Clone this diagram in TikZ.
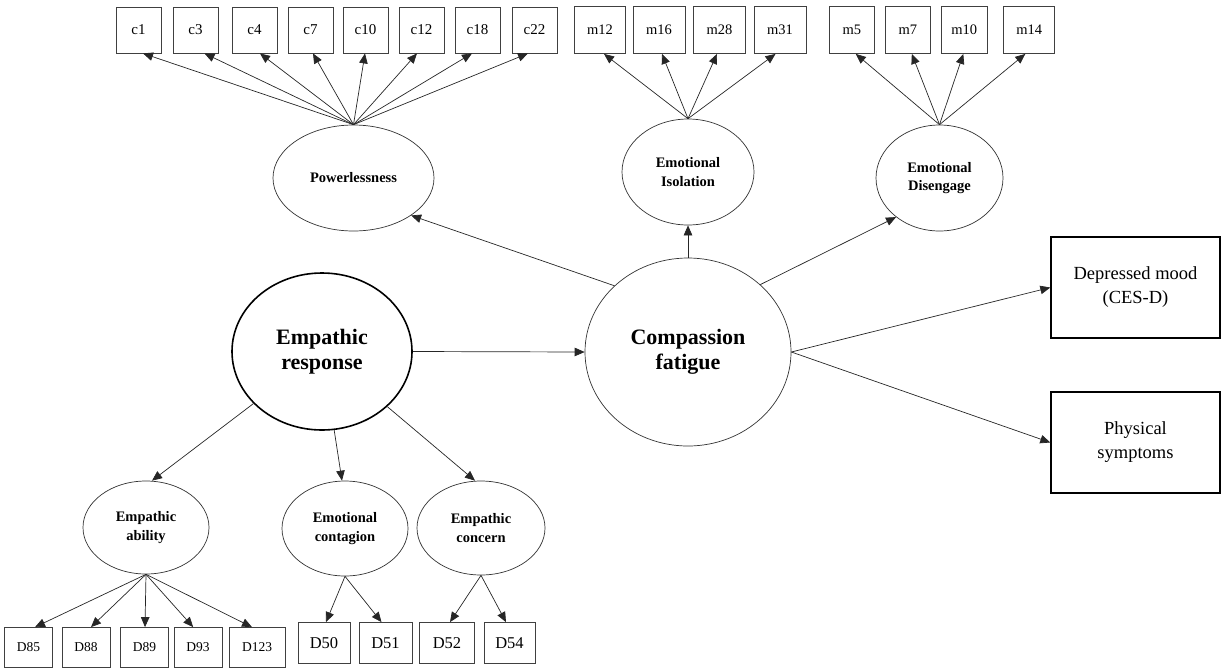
\documentclass[tikz,border=0pt]{standalone}
\usepackage{fontspec}
\setmainfont{Liberation Serif}
\usetikzlibrary{arrows.meta,shapes.geometric}
\begin{document}
\begin{tikzpicture}[x=1pt,y=-1pt,
  lat/.style={ellipse,draw=black!80,line width=0.7pt,inner sep=0pt,align=center,font=\fontsize{14.5}{18.5}\selectfont\bfseries},
  biglat/.style={lat,font=\fontsize{22}{25}\selectfont\bfseries},
  obs/.style={rectangle,draw=black!75,line width=0.8pt,inner sep=0pt,font=\fontsize{15}{18}\selectfont},
  outc/.style={rectangle,draw=black,line width=1.4pt,inner sep=0pt,align=center,minimum width=169pt,minimum height=101pt,font=\fontsize{18.5}{24}\selectfont},
  arr/.style={draw=black!85,line width=0.7pt,-{Triangle[length=10pt,width=8.5pt]}},
]
\useasboundingbox (0,0) rectangle (1225,670);

% latent variables
\node[lat,minimum width=161pt,minimum height=106pt] (pw) at (353.5,178) {Powerlessness};
\node[lat,minimum width=132pt,minimum height=106pt] (iso) at (688,172) {Emotional\\Isolation};
\node[lat,minimum width=127pt,minimum height=106pt] (dis) at (939.5,178) {Emotional\\Disengage};
\node[biglat,line width=1.6pt,draw=black,minimum width=180pt,minimum height=157pt] (er) at (322,351.5) {Empathic\\response};
\node[biglat,minimum width=206pt,minimum height=188pt] (cf) at (688,352) {Compassion\\fatigue};
\node[lat,minimum width=126pt,minimum height=93pt] (ab) at (146,527.5) {Empathic\\ability};
\node[lat,minimum width=126pt,minimum height=95pt] (cg) at (345,528.5) {Emotional\\contagion};
\node[lat,minimum width=128pt,minimum height=94pt] (cc) at (481,528) {Empathic\\concern};

% outcomes
\node[outc] (dep) at (1135.5,287.5) {Depressed mood\\(CES-D)};
\node[outc] (phys) at (1135.5,442.5) {Physical\\symptoms};

% c indicators
\foreach \n/\x in {c1/138.5,c3/195.5,c4/254.5,c7/310.5,c10/365.5,c12/421.5,c18/477.5,c22/534.5}
  \node[obs,minimum width=45pt,minimum height=46pt] (\n) at (\x,30) {\n};
% m indicators
\foreach \n/\x/\w in {m12/600/51,m16/659/52,m28/719.5/52,m31/780/52,m5/851.8/45.5,m7/907.8/45.7,m10/964.3/46.6,m14/1029.3/51}
  \node[obs,minimum width=\w pt,minimum height=47pt,font=\fontsize{14.5}{17}\selectfont] (\n) at (\x,30) {\n};
% D indicators
\foreach \n/\x/\w in {D85/28.5/48,D88/86/48,D89/144.5/48,D93/198/48,D123/257/56}
  \node[obs,minimum width=\w pt,minimum height=40pt,font=\fontsize{13.5}{16}\selectfont] (\n) at (\x,647.5) {\n};
\foreach \n/\x/\w in {D50/324/52,D51/385.5/53,D52/447/55,D54/509.5/51}
  \node[obs,minimum width=\w pt,minimum height=41pt,font=\fontsize{16.5}{19}\selectfont] (\n) at (\x,643) {\n};

% loadings
\foreach \n/\s in {c1/4.5,c3/9,c4/5.5,c7/2.5,c10/-0.5,c12/-4.5,c18/-5.5,c22/-6.5}
  \draw[arr] (pw.north) -- ([xshift=\s]\n.south);
\foreach \n/\s in {m12/4,m16/3,m28/-2.5,m31/-4.5}
  \draw[arr] (iso.north) -- ([xshift=\s]\n.south);
\foreach \n/\s in {m5/4,m7/4,m10/-1,m14/-4}
  \draw[arr] (dis.north) -- ([xshift=\s]\n.south);
\foreach \n/\s in {D85/6.5,D88/5,D89/0.5,D93/-4.8,D123/-5}
  \draw[arr] (ab.south) -- ([xshift=\s]\n.north);
\foreach \n/\s in {D50/2,D51/-4}
  \draw[arr] (cg.south) -- ([xshift=\s]\n.north);
\foreach \n/\s in {D52/3,D54/-3.5}
  \draw[arr] (cc.south) -- ([xshift=\s]\n.north);

% structural paths
\draw[arr] (er) -- ([xshift=6]ab.north);
\draw[arr] (er) -- ([xshift=-3]cg.north);
\draw[arr] (er) -- ([xshift=-6]cc.north);
\draw[arr] (er.east) -- (cf.west);
\draw[arr] (cf.138) -- (pw.-33);
\draw[arr] (cf.north) -- (iso.south);
\draw[arr] (cf.43) -- (dis.222);
\draw[arr] (cf.east) -- (dep.west);
\draw[arr] (cf.east) -- (phys.west);
\end{tikzpicture}
\end{document}
